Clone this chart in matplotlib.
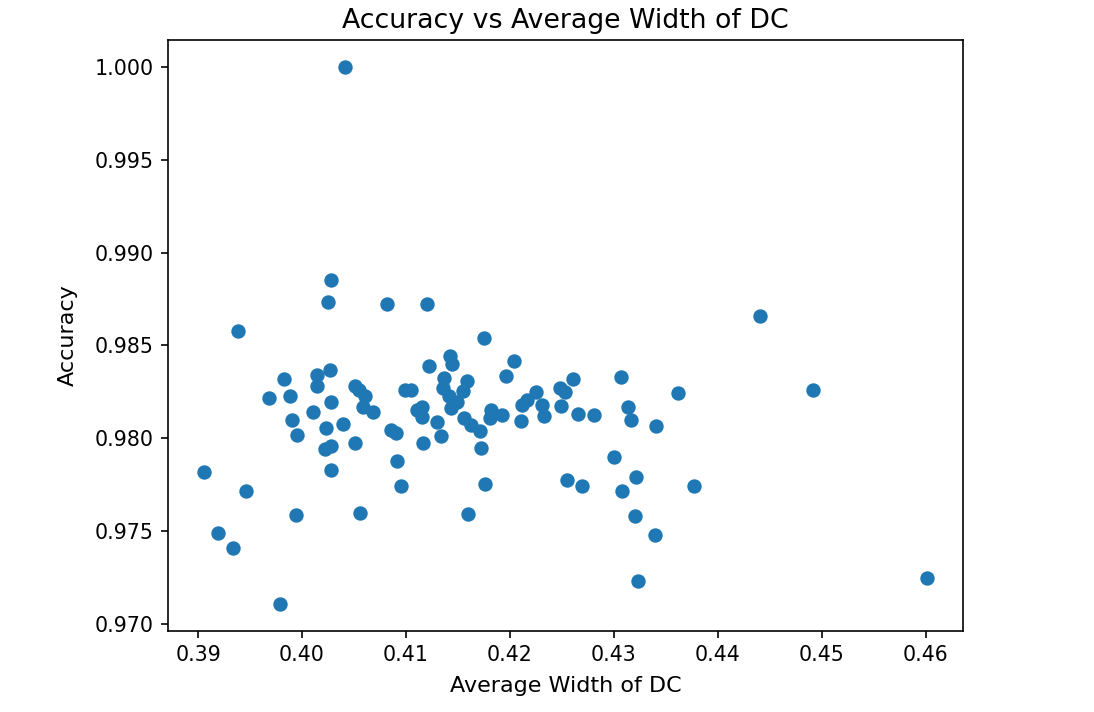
import matplotlib
matplotlib.use("Agg")
import matplotlib.pyplot as plt

# average width of DC vs accuracy
avg_width = [
    0.4041, 0.4028, 0.4025, 0.4082, 0.4120, 0.3938, 0.4441, 0.4492, 0.4601,
    0.3906, 0.3919, 0.3934, 0.3946, 0.3979, 0.3994, 0.4056,
    0.3968, 0.3983, 0.3988, 0.3990, 0.3995, 0.4011, 0.4014, 0.4014, 0.4027,
    0.4028, 0.4023, 0.4022, 0.4028, 0.4028, 0.4039, 0.4051, 0.4051, 0.4055,
    0.4061, 0.4059, 0.4068, 0.4086, 0.4090, 0.4091, 0.4095, 0.4099, 0.4105,
    0.4175, 0.4122, 0.4142, 0.4144, 0.4204, 0.4196, 0.4137, 0.4159, 0.4136,
    0.4155, 0.4141, 0.4143, 0.4149, 0.4115, 0.4115, 0.4111, 0.4130, 0.4134,
    0.4116, 0.4156, 0.4163, 0.4171, 0.4172, 0.4176, 0.4160, 0.4182, 0.4181,
    0.4192, 0.4212, 0.4216, 0.4211, 0.4225, 0.4231, 0.4233, 0.4248, 0.4253,
    0.4261, 0.4249, 0.4266, 0.4281, 0.4307, 0.4314, 0.4317, 0.4341, 0.4362,
    0.4300, 0.4255, 0.4269, 0.4321, 0.4308, 0.4320, 0.4340, 0.4323, 0.4377,
]
accuracy = [
    1.0000, 0.98854, 0.98732, 0.98725, 0.98725, 0.98579, 0.98656, 0.98261, 0.97250,
    0.97821, 0.97492, 0.97408, 0.97717, 0.97107, 0.97588, 0.97597,
    0.98217, 0.98321, 0.98225, 0.98100, 0.98019, 0.98139, 0.98342, 0.98279, 0.98365,
    0.98198, 0.98055, 0.97942, 0.97960, 0.97830, 0.98078, 0.97977, 0.98279, 0.98261,
    0.98229, 0.98171, 0.98139, 0.98046, 0.98031, 0.97880, 0.97744, 0.98261, 0.98261,
    0.98540, 0.98391, 0.98441, 0.98400, 0.98418, 0.98333, 0.98324, 0.98306, 0.98270,
    0.98252, 0.98225, 0.98163, 0.98198, 0.98171, 0.98117, 0.98154, 0.98085, 0.98010,
    0.97974, 0.98109, 0.98073, 0.98037, 0.97947, 0.97755, 0.97592, 0.98154, 0.98109,
    0.98127, 0.98180, 0.98207, 0.98091, 0.98249, 0.98180, 0.98121, 0.98270, 0.98247,
    0.98321, 0.98175, 0.98132, 0.98123, 0.98330, 0.98171, 0.98100, 0.98064, 0.98244,
    0.97899, 0.97776, 0.97744, 0.97789, 0.97717, 0.97582, 0.97480, 0.97234, 0.97744,
]

fig = plt.figure(figsize=(1094 / 148, 712 / 148), dpi=148)
ax = fig.add_axes([0.1538, 0.1138, 0.7262, 0.83])
ax.scatter(avg_width, accuracy)
ax.set_title("Accuracy vs Average Width of DC", fontsize=13)
ax.set_xlabel("Average Width of DC", fontsize=10.8, labelpad=5)
ax.set_ylabel("Accuracy", fontsize=10.8, labelpad=8)

fig.savefig("out.png", dpi=148)
